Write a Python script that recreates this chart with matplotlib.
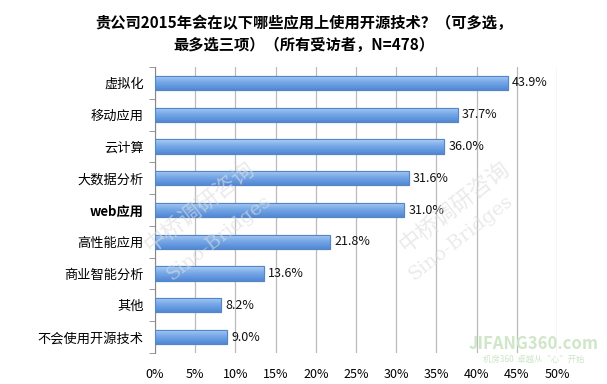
import matplotlib
matplotlib.use("Agg")
import matplotlib.pyplot as plt
import numpy as np
from matplotlib.colors import LinearSegmentedColormap

plt.rcParams['font.family'] = ['Noto Sans CJK SC', 'DejaVu Sans']

categories = ["虚拟化", "移动应用", "云计算", "大数据分析", "web应用", "高性能应用", "商业智能分析", "其他", "不会使用开源技术"]
values = [43.9, 37.7, 36.0, 31.6, 31.0, 21.8, 13.6, 8.2, 9.0]
xticks = [0, 5, 10, 15, 20, 25, 30, 35, 40, 45, 50]
title = "贵公司2015年会在以下哪些应用上使用开源技术？（可多选，\n最多选三项）（所有受访者，N=478）"

fig = plt.figure(figsize=(6.07, 3.84), dpi=100)
ax = fig.add_axes([155/607, 1-353/384, (557-155)/607, (353-67)/384])

n = len(categories)
ypos = np.arange(n)
bars = ax.barh(ypos, values, height=0.45, color="#76A8E6", edgecolor="#5587C8", linewidth=0.8, zorder=3)

cmap = LinearSegmentedColormap.from_list("g", ["#B4D1F5", "#8DB9EE", "#74A6E6", "#6297DE", "#5288D2"])
grad = np.linspace(0, 1, 64).reshape(-1, 1)
for b in bars:
    x0, y0 = b.get_x(), b.get_y()
    w, h = b.get_width(), b.get_height()
    im = ax.imshow(grad, cmap=cmap, aspect="auto", extent=(x0, x0 + w, y0 + h, y0),
                   origin="upper", zorder=3.5)
    im.set_clip_path(b)
    ax.add_patch(plt.Rectangle((x0, y0), w, h, fill=False, edgecolor="#5587C8", linewidth=0.8, zorder=4))

for yi, v in zip(ypos, values):
    ax.text(v + 0.5, yi, f"{v:.1f}%", va="center", ha="left", fontsize=9, color="#111111", zorder=5)

ax.set_xlim(0, 50)
ax.set_ylim(n - 0.5, -0.5)
ax.set_xticks(xticks)
ax.set_xticklabels([f"{t}%" for t in xticks], fontsize=9)
ax.tick_params(axis="x", length=0, pad=11)
ax.set_yticks(ypos)
ax.set_yticklabels(categories, fontsize=9.5)
for lab in ax.get_yticklabels():
    if lab.get_text() == "web应用":
        lab.set_fontweight("bold")
ax.tick_params(axis="y", length=0, pad=8)
ax.set_yticks(np.arange(-0.5, n, 1), minor=True)
ax.tick_params(axis="y", which="minor", length=4, color="#888888", direction="out")
ax.grid(axis="x", color="#BBBBBB", linewidth=0.9, zorder=0)
for s in ["top", "right", "bottom"]:
    ax.spines[s].set_visible(False)
ax.spines["left"].set_color("#888888")

fig.text(0.5, 0.912, title, ha="center", va="center", fontsize=11, fontweight="bold", linespacing=1.45)

# watermarks
fig.text(0.33, 0.46, "中桥调研咨询", rotation=38, fontsize=16, color="#DDDDDD", alpha=0.6, ha="center", va="center")
fig.text(0.36, 0.38, "Sino-Bridges", rotation=38, fontsize=14, color="#DDDDDD", alpha=0.6, ha="center", va="center", family="DejaVu Serif")
fig.text(0.75, 0.46, "中桥调研咨询", rotation=38, fontsize=16, color="#DDDDDD", alpha=0.6, ha="center", va="center")
fig.text(0.76, 0.38, "Sino-Bridges", rotation=38, fontsize=14, color="#DDDDDD", alpha=0.6, ha="center", va="center", family="DejaVu Serif")
fig.text(0.88, 0.105, "JIFANG360.com", fontsize=12, color="#CFE6C8", ha="center", va="center", fontweight="bold")
fig.text(0.88, 0.065, "机房360  卓越从“心”开始", fontsize=6, color="#CFE6C8", ha="center", va="center")

fig.savefig("out.png", dpi=100)
